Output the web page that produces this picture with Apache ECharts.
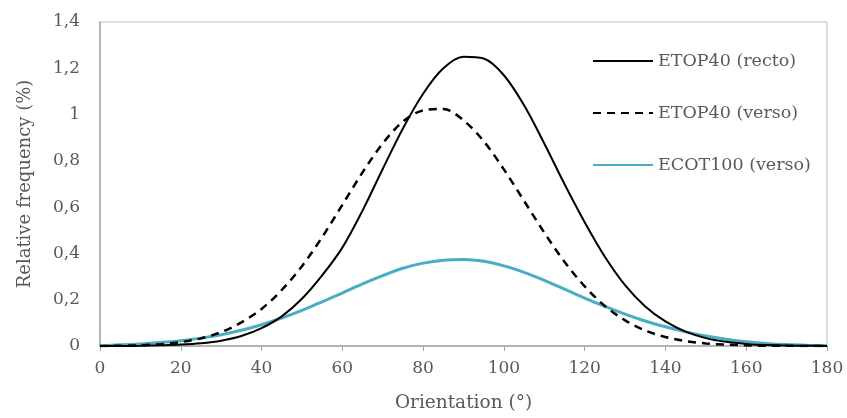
<!DOCTYPE html>
<html>
<head>
<meta charset="utf-8">
<script src="https://cdn.jsdelivr.net/npm/echarts@6/dist/echarts.min.js"></script>
<style>html,body{margin:0;padding:0;background:#fff}#c{width:847px;height:418px}</style>
</head>
<body>
<div id="c"></div>
<script>
var orientation = [0,5,10,15,20,25,30,35,40,45,50,55,60,65,70,75,80,85,90,95,100,105,110,115,120,125,130,135,140,145,150,155,160,165,170,175,180];
var etopRecto = [0,0,0.001,0.003,0.006,0.012,0.023,0.043,0.077,0.128,0.204,0.305,0.425,0.585,0.765,0.94,1.09,1.2,1.25,1.242,1.17,1.04,0.875,0.7,0.535,0.386,0.263,0.171,0.106,0.062,0.034,0.018,0.009,0.004,0.002,0.001,0];
var etopVerso = [0,0.001,0.003,0.008,0.017,0.033,0.06,0.102,0.16,0.242,0.345,0.47,0.61,0.75,0.875,0.97,1.018,1.024,0.975,0.885,0.763,0.627,0.49,0.364,0.258,0.173,0.111,0.067,0.039,0.021,0.011,0.006,0.003,0.001,0.001,0,0];
var ecotVerso = [0,0.005,0.009,0.015,0.023,0.034,0.049,0.068,0.092,0.121,0.154,0.191,0.229,0.268,0.304,0.336,0.358,0.371,0.374,0.366,0.346,0.318,0.284,0.246,0.207,0.171,0.138,0.108,0.083,0.061,0.043,0.029,0.018,0.011,0.006,0.003,0.001];
var seriesNames = ['ETOP40 (recto)','ETOP40 (verso)','ECOT100 (verso)'];
var xTicks = [0,20,40,60,80,100,120,140,160,180];

function pairs(ys){ return orientation.map(function(x,i){ return [x, ys[i]]; }); }
var font = 'DejaVu Serif';
var grey = '#595959';
var chart = echarts.init(document.getElementById('c'));
chart.setOption({
  animation:false,
  backgroundColor:'#fff',
  grid:{left:100,right:20,top:22,bottom:71,show:true,borderColor:'#bfbfbf',borderWidth:1},
  legend:{
    orient:'vertical', left:587, top:47, itemWidth:60, itemHeight:20, itemGap:34, itemTextGap:8,
    itemStyle:{opacity:0},
    textStyle:{fontFamily:font,fontSize:17.5,color:grey},
    data:seriesNames
  },
  xAxis:{
    type:'value', min:0, max:180, interval:20,
    name:'Orientation (°)', nameLocation:'middle', nameGap:48,
    nameTextStyle:{fontFamily:font,fontSize:18.5,color:grey},
    axisLine:{show:true,lineStyle:{color:'#a6a6a6',width:1.5}},
    axisTick:{show:true,length:5,lineStyle:{color:'#a6a6a6'}},
    axisLabel:{fontFamily:font,fontSize:17,color:grey,margin:14,
      formatter:function(v){ return xTicks.indexOf(v)>=0 ? String(v) : ''; }},
    splitLine:{show:false}
  },
  yAxis:{
    type:'value', min:0, max:1.4, interval:0.2,
    name:'Relative frequency (%)', nameLocation:'middle', nameGap:66,
    nameTextStyle:{fontFamily:font,fontSize:18,color:grey},
    axisLine:{show:true,lineStyle:{color:'#a6a6a6',width:1.5}},
    axisTick:{show:false},
    axisLabel:{fontFamily:font,fontSize:17,color:grey,margin:20,
      formatter:function(v){ var s=(Math.round(v*10)/10).toString(); return s.replace('.',','); }},
    splitLine:{show:false}
  },
  series:[
    {name:seriesNames[0],type:'line',smooth:0.33,symbol:'none',data:pairs(etopRecto),
     lineStyle:{color:'#000',width:2},itemStyle:{color:'#000'},z:3},
    {name:seriesNames[1],type:'line',smooth:0.33,symbol:'none',data:pairs(etopVerso),
     lineStyle:{color:'#000',width:2.5,type:[8,6]},itemStyle:{color:'#000'},z:2},
    {name:seriesNames[2],type:'line',smooth:0.33,symbol:'none',data:pairs(ecotVerso),
     lineStyle:{color:'#4bacc6',width:3},itemStyle:{color:'#4bacc6'},z:1}
  ]
});
</script>
</body>
</html>
